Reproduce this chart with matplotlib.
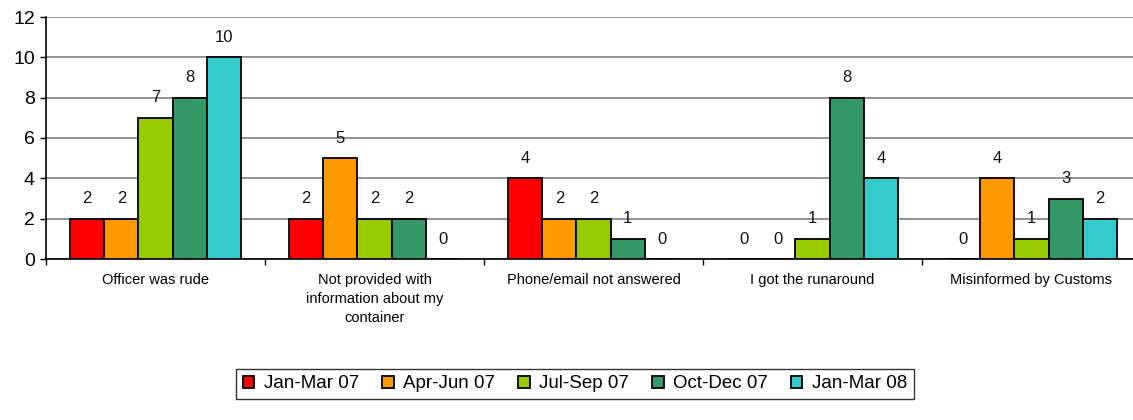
import matplotlib
matplotlib.use("Agg")
import matplotlib.pyplot as plt
import numpy as np

plt.rcParams["font.family"] = ["Liberation Sans", "DejaVu Sans"]

categories = ["Officer was rude", "Not provided with\ninformation about my\ncontainer",
              "Phone/email not answered", "I got the runaround", "Misinformed by Customs"]
series_names = ["Jan-Mar 07", "Apr-Jun 07", "Jul-Sep 07", "Oct-Dec 07", "Jan-Mar 08"]
jan_mar_07 = [2, 2, 4, 0, 0]
apr_jun_07 = [2, 5, 2, 0, 4]
jul_sep_07 = [7, 2, 2, 1, 1]
oct_dec_07 = [8, 2, 1, 8, 3]
jan_mar_08 = [10, 0, 0, 4, 2]
colors = ["#FF0000", "#FF9900", "#99CC00", "#339966", "#33CCCC"]
y_ticks = [0, 2, 4, 6, 8, 10, 12]

series = [jan_mar_07, apr_jun_07, jul_sep_07, oct_dec_07, jan_mar_08]

fig = plt.figure(figsize=(11.33, 4.2), dpi=100)
ax = fig.add_axes([46/1133, 1-259/420, (1141-46)/1133, (259-17)/420])

x = np.arange(len(categories))
bw = 0.156
for i, (vals, name, c) in enumerate(zip(series, series_names, colors)):
    pos = x + (i - 2) * bw
    ax.bar(pos, vals, width=bw, color=c, edgecolor="black", linewidth=1.3,
           label=name, zorder=3)
    for p, v in zip(pos, vals):
        ax.annotate(str(v), (p, v), xytext=(0, 9), textcoords="offset points",
                    ha="center", va="bottom", fontsize=12, color="#111111")

ax.set_xlim(-0.5, 4.5)
ax.set_ylim(0, 12)
ax.set_yticks(y_ticks)
ax.set_yticklabels([str(t) for t in y_ticks], fontsize=14)
ax.yaxis.grid(True, color="#808080", linewidth=1.2, zorder=0)
ax.set_axisbelow(True)
ax.tick_params(axis="y", length=4, width=1, pad=4)

ax.set_xticks(np.arange(-0.5, 4.6, 1.0))
ax.set_xticklabels([])
ax.tick_params(axis="x", length=4, width=1, direction="out")
ax.set_xticks(x, minor=True)
ax.set_xticklabels(categories, minor=True, fontsize=10.5, linespacing=1.45, va="top")
ax.tick_params(axis="x", which="minor", length=0, pad=10)

for s in ["top", "right"]:
    ax.spines[s].set_visible(False)
ax.spines["left"].set_linewidth(1.2)
ax.spines["bottom"].set_linewidth(1.2)

leg = fig.legend(loc="center", bbox_to_anchor=(575/1133, 1-384/420), ncol=5,
                 fontsize=13.5, frameon=True, fancybox=False, edgecolor="black",
                 handlelength=0.6, handleheight=0.6, handletextpad=0.5,
                 columnspacing=1.25, borderpad=0.35)
leg.get_frame().set_linewidth(1.0)

fig.savefig("out.png", dpi=100)
